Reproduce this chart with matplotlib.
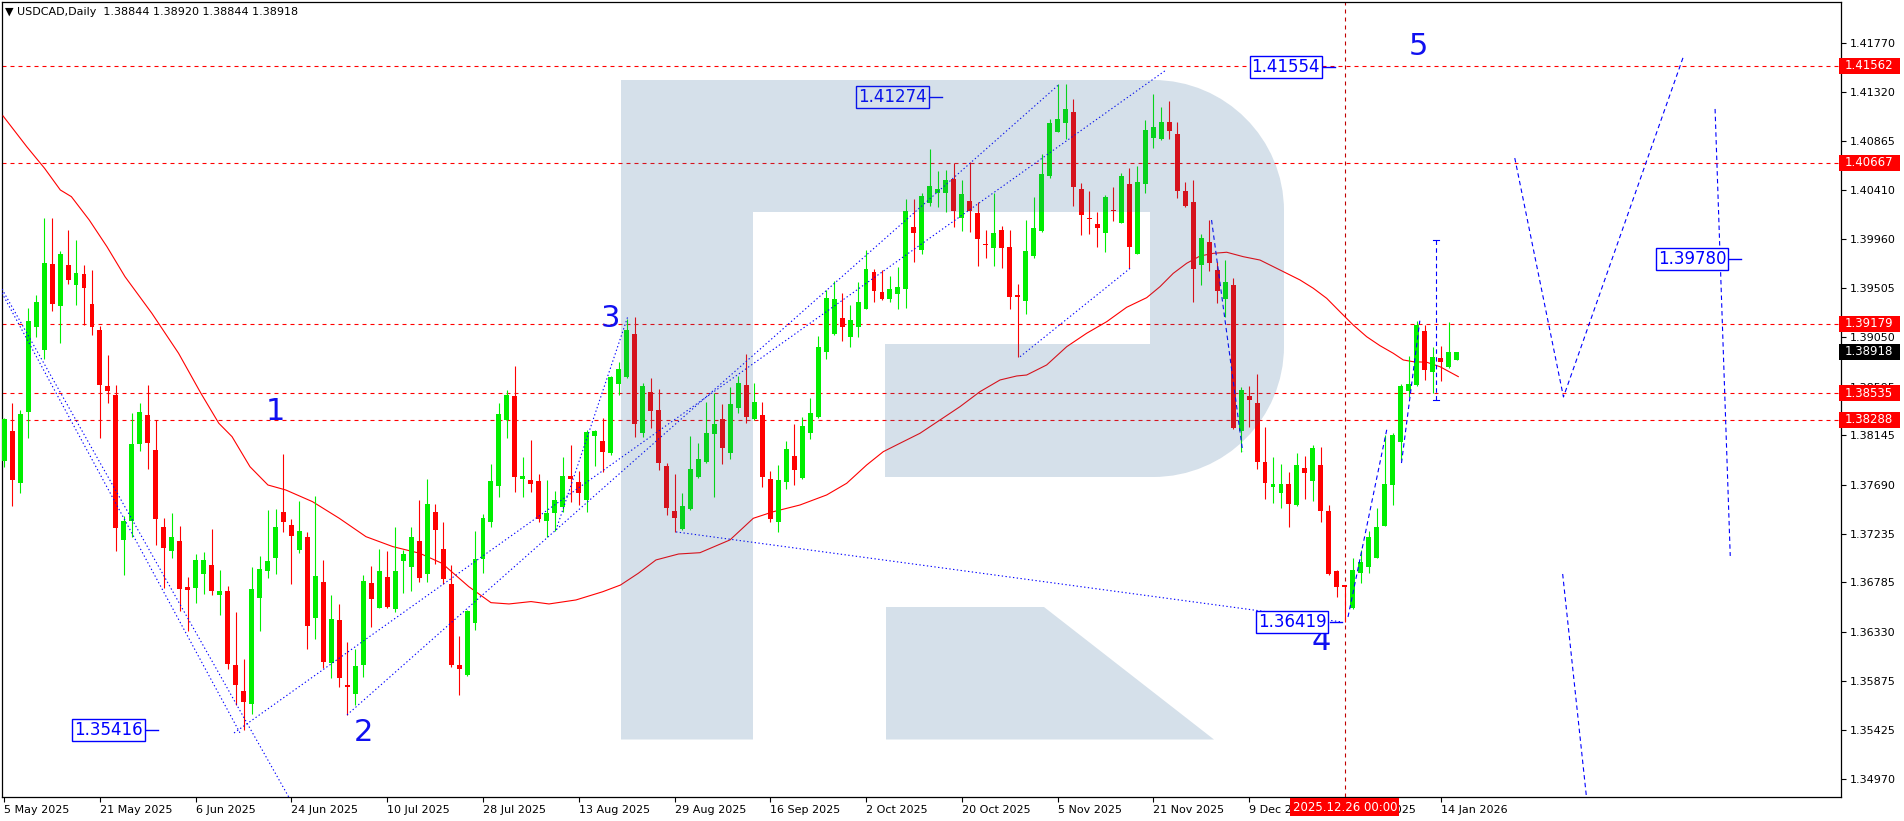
import matplotlib
matplotlib.use("Agg")
import matplotlib.pyplot as plt
import matplotlib.transforms as mtransforms
from matplotlib.patches import Rectangle, PathPatch
from matplotlib.path import Path

plt.rcParams['font.family'] = ['DejaVu Sans']

# ---------------- data (daily candles, index 0 = 5 May 2025) ----------------
opens = [1.37905,1.38187,1.37701,1.38365,1.39147,1.38933,1.39731,1.39345,1.39721,1.39539,
         1.39637,1.39361,1.39118,1.38602,1.38518,1.37175,1.37354,1.38067,1.38333,1.38009,
         1.37295,1.37078,1.37172,1.36744,1.36737,1.36867,1.36945,1.36673,1.36705,1.36021,
         1.35781,1.35658,1.36643,1.36893,1.37007,1.37438,1.37315,1.37088,1.37206,1.36460,
         1.36790,1.36044,1.36438,1.35837,1.35754,1.36022,1.36777,1.36552,1.36836,1.36540,
         1.36987,1.36931,1.37169,1.36867,1.37437,1.37095,1.36771,1.36022,1.35930,1.36414,
         1.37002,1.37347,1.37680,1.38287,1.38509,1.37745,1.37733,1.37723,1.37357,1.37425,
         1.37486,1.37770,1.37714,1.37551,1.38143,1.38093,1.37985,1.38617,1.38688,1.39079,
         1.38164,1.38543,1.38379,1.37862,1.37446,1.37276,1.37464,1.37757,1.37902,1.38154,
         1.38296,1.37979,1.38395,1.38611,1.38296,1.38333,1.37738,1.37347,1.37717,1.37954,
         1.37748,1.38170,1.38318,1.38919,1.39082,1.39227,1.39057,1.39144,1.39316,1.39652,
         1.39470,1.39409,1.39452,1.39498,1.40068,1.39859,1.40290,1.40389,1.40389,1.40515,
         1.40152,1.40312,1.40198,1.39914,1.39880,1.40044,1.39887,1.39440,1.39390,1.39806,
         1.40034,1.40543,1.40953,1.41036,1.41135,1.40423,1.40158,1.40099,1.40019,1.40229,
         1.40111,1.40469,1.39825,1.40466,1.40897,1.40882,1.41045,1.40931,1.40404,1.40303,
         1.39717,1.39933,1.39674,1.39406,1.39535,1.38188,1.38509,1.38447,1.37899,1.37670,
         1.37615,1.37695,1.37501,1.37840,1.37726,1.37871,1.37446,1.36894,1.36761,1.36545,
         1.36869,1.36925,1.37014,1.37310,1.37686,1.38087,1.38558,1.38610,1.39110,1.38734,
         1.38860,1.38780,1.38844]
highs = [1.38310,1.38447,1.38375,1.39322,1.39445,1.40159,1.40159,1.39851,1.40042,1.39951,
         1.39721,1.39672,1.39160,1.38888,1.38612,1.37402,1.38349,1.38447,1.38612,1.38284,
         1.37380,1.37425,1.37305,1.36835,1.37046,1.37068,1.37279,1.36900,1.36754,1.36510,
         1.36073,1.36929,1.37029,1.37457,1.37467,1.37976,1.37376,1.37539,1.37249,1.37585,
         1.36993,1.36673,1.36586,1.36238,1.36170,1.36854,1.36938,1.37095,1.37076,1.37298,
         1.37085,1.37298,1.37548,1.37742,1.37511,1.37344,1.36947,1.36290,1.36531,1.37261,
         1.37418,1.37881,1.38445,1.38565,1.38787,1.37948,1.38103,1.37788,1.37733,1.37631,
         1.37948,1.38056,1.37816,1.38195,1.38195,1.38309,1.38694,1.38826,1.39218,1.39242,
         1.38626,1.38672,1.38570,1.37886,1.37785,1.37609,1.38139,1.38071,1.38450,1.38533,
         1.38432,1.38589,1.38694,1.38894,1.38626,1.38456,1.37815,1.37871,1.38096,1.38247,
         1.38318,1.38487,1.39064,1.39489,1.39572,1.39458,1.39350,1.39560,1.39859,1.39680,
         1.39674,1.39618,1.39698,1.40327,1.40327,1.40383,1.40793,1.40589,1.40598,1.40660,
         1.40506,1.40675,1.40306,1.40044,1.40383,1.40081,1.40044,1.39544,1.40136,1.40352,
         1.40743,1.41067,1.41394,1.41394,1.41252,1.40475,1.40404,1.40207,1.40367,1.40438,
         1.40568,1.40614,1.40638,1.41061,1.41301,1.41178,1.41236,1.41045,1.40484,1.40506,
         1.40007,1.40136,1.39751,1.39766,1.39597,1.38589,1.38601,1.38712,1.38219,1.37948,
         1.37880,1.37809,1.37979,1.37954,1.38056,1.38034,1.37501,1.36900,1.36761,1.37008,
         1.37085,1.37261,1.37476,1.38148,1.38164,1.38617,1.38879,1.39205,1.39165,1.38965,
         1.38971,1.39190,1.38920]
lows = [1.37856,1.37493,1.37613,1.38122,1.39050,1.38852,1.39296,1.39001,1.39543,1.39348,
        1.39163,1.39073,1.38122,1.38447,1.37078,1.36851,1.37208,1.38002,1.37837,1.37127,
        1.36734,1.37007,1.36520,1.36339,1.36598,1.36682,1.36673,1.36488,1.35988,1.35651,
        1.35416,1.35570,1.36332,1.36828,1.36867,1.37247,1.36773,1.37055,1.36170,1.36263,
        1.35991,1.35905,1.35822,1.35560,1.35652,1.35914,1.36377,1.36546,1.36552,1.36515,
        1.36691,1.36706,1.36793,1.36793,1.36953,1.36768,1.36000,1.35745,1.35924,1.36346,
        1.36876,1.37301,1.37579,1.38124,1.37625,1.37579,1.37625,1.37347,1.37209,1.37261,
        1.37440,1.37532,1.37502,1.37437,1.37865,1.37810,1.37963,1.38518,1.38672,1.38133,
        1.38133,1.38210,1.37825,1.37409,1.37254,1.37270,1.37455,1.37751,1.37892,1.37572,
        1.37877,1.37923,1.38349,1.38256,1.38287,1.37664,1.37341,1.37254,1.37646,1.37686,
        1.37741,1.38108,1.38308,1.38848,1.39073,1.39020,1.38959,1.39051,1.39310,1.39381,
        1.39396,1.39375,1.39310,1.39326,1.39751,1.39819,1.40266,1.40253,1.40213,1.40068,
        1.40037,1.40022,1.39709,1.39788,1.39714,1.39689,1.39313,1.38866,1.39264,1.39782,
        1.40028,1.40528,1.40947,1.40885,1.40269,1.39997,1.40007,1.39890,1.39843,1.40130,
        1.40105,1.39695,1.39819,1.40389,1.40805,1.40876,1.40882,1.40336,1.40259,1.39375,
        1.39532,1.39668,1.39372,1.39242,1.38201,1.37988,1.38225,1.37831,1.37556,1.37523,
        1.37470,1.37295,1.37492,1.37553,1.37541,1.37347,1.36854,1.36647,1.36419,1.36536,
        1.36777,1.36875,1.37008,1.37307,1.37501,1.37917,1.38503,1.38601,1.38657,1.38533,
        1.38647,1.38765,1.38844]
closes = [1.38294,1.37733,1.38343,1.39202,1.39377,1.39737,1.39355,1.39822,1.39582,1.39646,
          1.39510,1.39150,1.38609,1.38554,1.37292,1.37354,1.38067,1.38362,1.38077,1.37376,
          1.37107,1.37205,1.36728,1.36718,1.36997,1.36997,1.36708,1.36705,1.36034,1.35839,
          1.35677,1.36728,1.36909,1.36987,1.37299,1.37347,1.37217,1.37263,1.36386,1.36845,
          1.36053,1.36448,1.35905,1.35822,1.36013,1.36799,1.36635,1.36891,1.36562,1.36891,
          1.37049,1.37206,1.36830,1.37511,1.37273,1.36820,1.36022,1.35982,1.36521,1.37002,
          1.37381,1.37723,1.38343,1.38519,1.37762,1.37770,1.37699,1.37375,1.37425,1.37548,
          1.37770,1.37739,1.37609,1.38177,1.38186,1.37995,1.38688,1.38755,1.39119,1.38247,
          1.38601,1.38373,1.37886,1.37470,1.37378,1.37492,1.37834,1.37926,1.38164,1.38247,
          1.38031,1.38432,1.38626,1.38318,1.38450,1.37757,1.37368,1.37732,1.38016,1.37825,
          1.38231,1.38349,1.38959,1.39412,1.39403,1.39150,1.39212,1.39375,1.39680,1.39483,
          1.39409,1.39495,1.39514,1.40219,1.40019,1.40358,1.40451,1.40423,1.40506,1.40222,
          1.40376,1.40222,1.39960,1.39902,1.40013,1.39880,1.39427,1.39427,1.39849,1.40065,
          1.40561,1.41030,1.41070,1.41162,1.40444,1.40182,1.40148,1.40065,1.40346,1.40219,
          1.40543,1.39890,1.40487,1.40968,1.40993,1.41045,1.40962,1.40407,1.40269,1.39686,
          1.39973,1.39742,1.39483,1.39563,1.38210,1.38564,1.38472,1.37902,1.37707,1.37695,
          1.37695,1.37510,1.37871,1.37800,1.38025,1.37449,1.36860,1.36740,1.36740,1.36900,
          1.36977,1.37202,1.37294,1.37695,1.38148,1.38604,1.38620,1.39165,1.38749,1.38866,
          1.38823,1.38916,1.38918]

# moving average (bar index, price)
ma_idx = [-0.14,2.83,5.06,7.03,8.42,10.66,12.88,15.14,18.50,21.85,24.65,26.89,28.55,30.80,
          33.05,35.28,38.63,41.99,45.34,48.71,52.06,54.86,58.22,61.00,63.26,66.02,68.27,71.65,
          75.00,77.23,79.47,81.68,84.51,87.19,90.95,93.87,96.38,99.72,103.07,105.58,108.08,
          110.16,112.26,114.76,117.27,119.77,122.28,124.79,126.88,128.13,130.64,133.15,135.65,
          138.16,140.66,143.17,144.84,146.50,148.18,149.85,151.52,153.20,155.28,157.37,159.88,
          162.38,164.05,165.73,167.39,169.06,170.74,172.41,174.07,175.33,176.58,178.26,179.92,182.22]
ma_val = [1.41098,1.40814,1.40614,1.40414,1.40352,1.40136,1.39889,1.39612,1.39274,1.38904,
          1.38534,1.38257,1.38133,1.37855,1.37686,1.37640,1.37532,1.37378,1.37208,1.37116,
          1.37055,1.36962,1.36746,1.36598,1.36586,1.36608,1.36586,1.36623,1.36699,1.36761,
          1.36870,1.36993,1.37048,1.37060,1.37178,1.37378,1.37439,1.37501,1.37594,1.37702,
          1.37871,1.37994,1.38072,1.38164,1.38287,1.38410,1.38549,1.38657,1.38694,1.38703,
          1.38796,1.38965,1.39089,1.39196,1.39329,1.39418,1.39520,1.39643,1.39736,1.39803,
          1.39828,1.39838,1.39797,1.39766,1.39674,1.39582,1.39505,1.39412,1.39288,1.39165,
          1.39057,1.38974,1.38904,1.38842,1.38826,1.38821,1.38780,1.38688]

level_prices = [1.41562, 1.40667, 1.39179, 1.38535, 1.38288]
y_ticks = [1.41770,1.41320,1.40865,1.40410,1.39960,1.39505,1.39050,1.38595,1.38145,
           1.37690,1.37235,1.36785,1.36330,1.35875,1.35425,1.34970]
x_tick_idx = [0,12,24,36,48,60,72,84,96,108,120,132,144,156,168,180]
x_tick_lbl = ["5 May 2025","21 May 2025","6 Jun 2025","24 Jun 2025","10 Jul 2025",
              "28 Jul 2025","13 Aug 2025","29 Aug 2025","16 Sep 2025","2 Oct 2025",
              "20 Oct 2025","5 Nov 2025","21 Nov 2025","9 Dec 2025","26 Dec 2025","14 Jan 2026"]

# wave labels (index, price)
wave_txt = ["1","2","3","4","5"]
wave_idx = [34.0, 45.0, 76.0, 165.0, 177.2]
wave_val = [1.38361, 1.35393, 1.39221, 1.36235, 1.41745]

# boxed price labels (index of box centre, price)
box_txt = ["1.35416","1.41274","1.36419","1.41554","1.39780"]
box_idx = [13.1, 111.3, 161.4, 160.6, 211.5]
box_val = [1.35416, 1.41274, 1.36419, 1.41554, 1.39780]

# blue trend / projection lines : lists of (index, price) vertices
dotted_lines = [
    ([-0.28, 35.94], [1.39498, 1.34764]),
    ([-0.28, 29.55], [1.39461, 1.35393]),
    ([28.8, 145.6], [1.35393, 1.41523]),
    ([42.96, 132.1], [1.35560, 1.41384]),
    ([69.15, 78.17], [1.37270, 1.39249]),
    ([84.19, 167.6], [1.37252, 1.36420]),
    ([127.3, 141.1], [1.38872, 1.39690]),
]
dashed_lines = [
    ([151.3, 155.2], [1.40136, 1.37996]),
    ([168.4, 173.3], [1.36466, 1.38213]),
    ([175.1, 177.4], [1.37889, 1.39205]),
    ([179.4, 179.4], [1.39951, 1.38472]),
    ([189.3, 195.4, 210.5], [1.40709, 1.38500, 1.41662]),
    ([214.4, 216.3], [1.41163, 1.37030]),
    ([195.3, 198.5], [1.36863, 1.34650]),
]

# ---------------- figure ----------------
W, H, DPI = 1904, 821, 100
fig = plt.figure(figsize=(W / DPI, H / DPI), dpi=DPI)
fig.patch.set_facecolor('white')
ax = fig.add_axes([2 / W, 1 - 797 / H, (1841 - 2) / W, (797 - 2) / H])
ax.set_xlim(-0.276, 230.18)
ax.set_ylim(1.34801, 1.42152)
PX = (1.42152 - 1.34801) / 795.0   # price per pixel

GREEN = '#00EE00'
RED = '#FF0000'
BLUE = '#0000FF'

n = len(opens)
xs = list(range(n))
cols = [GREEN if closes[i] >= opens[i] else RED for i in xs]
ax.vlines(xs, lows, highs, colors=cols, lw=0.8, zorder=3)
bottoms = [min(opens[i], closes[i]) for i in xs]
heights = [max(abs(closes[i] - opens[i]), PX * 1.2) for i in xs]
ax.bar(xs, heights, bottom=bottoms, width=0.62, color=cols, edgecolor='none', zorder=3)

ax.plot(ma_idx, ma_val, color='#FF0000', lw=0.8, zorder=2.8)

for lv in level_prices:
    ax.axhline(lv, color=RED, lw=0.8, ls=(0, (3.6, 3.6)), zorder=2)
ax.axvline(168, color='#C00000', lw=0.8, ls=(0, (3.6, 3.6)), zorder=2)

for xv, yv in dotted_lines:
    ax.plot(xv, yv, color=BLUE, lw=0.8, ls=(0, (1.2, 2.2)), zorder=4)
for xv, yv in dashed_lines:
    ax.plot(xv, yv, color=BLUE, lw=0.8, ls=(0, (4, 3)), zorder=4)
# small end ticks of the vertical bracket
for yv in [1.39951, 1.38472]:
    ax.plot([179.0, 179.8], [yv, yv], color=BLUE, lw=0.8, zorder=4)

for t, xi, yv in zip(wave_txt, wave_idx, wave_val):
    ax.text(xi, yv, t, color='#1010F0', fontsize=22, ha='center', va='center', zorder=6)

for t, xi, yv in zip(box_txt, box_idx, box_val):
    ax.text(xi, yv, t, color=BLUE, fontsize=12, ha='center', va='center', zorder=6,
            bbox=dict(boxstyle='square,pad=0.12', fc='white', ec=BLUE, lw=1))
    ax.plot([xi + 4.7, xi + 6.2], [yv, yv], color=BLUE, lw=1, zorder=6)

# ---- logo (semi-transparent overlay, drawn in pixel space) ----
k = 0.5523
r = 131
verts = [(621, 80), (1153, 80),
         (1153 + k * r, 80), (1284, 211 - k * r), (1284, 211),
         (1284, 346),
         (1284, 346 + k * r), (1153 + k * r, 477), (1153, 477),
         (885, 477), (885, 344), (1150, 344), (1150, 212), (753, 212),
         (753, 739.5), (621, 739.5), (621, 80),
         (886, 607), (1044, 607), (1214, 739.5), (886, 739.5), (886, 607)]
codes = [Path.MOVETO, Path.LINETO,
         Path.CURVE4, Path.CURVE4, Path.CURVE4,
         Path.LINETO,
         Path.CURVE4, Path.CURVE4, Path.CURVE4,
         Path.LINETO, Path.LINETO, Path.LINETO, Path.LINETO, Path.LINETO,
         Path.LINETO, Path.LINETO, Path.CLOSEPOLY,
         Path.MOVETO, Path.LINETO, Path.LINETO, Path.LINETO, Path.CLOSEPOLY]
pix = mtransforms.Affine2D().scale(1, -1).translate(0, H)
ax.add_patch(PathPatch(Path(verts, codes), transform=pix, facecolor=(45 / 255, 100 / 255, 150 / 255, 0.2),
                       edgecolor='none', zorder=10, clip_on=False))

# ---- axes styling ----
for s in ax.spines.values():
    s.set_color('black')
    s.set_linewidth(0.9)
ax.yaxis.tick_right()
ax.set_yticks(y_ticks)
ax.set_yticklabels([f"{v:.5f}" for v in y_ticks])
ax.tick_params(axis='y', length=3.5, width=0.8, labelsize=8, pad=2.5, colors='black')
ax.set_xticks(x_tick_idx)
ax.set_xticklabels(x_tick_lbl)
for lbl in ax.get_xticklabels():
    lbl.set_ha('left')
ax.tick_params(axis='x', length=3.5, width=0.8, labelsize=8, pad=2.5)

bt = mtransforms.blended_transform_factory(mtransforms.IdentityTransform(), ax.transData)
def price_box(p, fc):
    hh = 8 * PX
    ax.add_patch(Rectangle((1839, p - hh), 61, 2 * hh, transform=bt, facecolor=fc,
                           edgecolor='none', clip_on=False, zorder=8))
    ax.text(1845, p, f"{p:.5f}", transform=bt, color='white', fontsize=8.5,
            va='center', ha='left', clip_on=False, zorder=9)
for lv in level_prices:
    price_box(lv, RED)
price_box(closes[-1], 'black')

bt2 = mtransforms.blended_transform_factory(ax.transData, mtransforms.IdentityTransform())
ax.text(168, H - 807, "2025.12.26 00:00", transform=bt2, color='white', fontsize=8.5,
        ha='center', va='center', zorder=9, clip_on=False,
        bbox=dict(boxstyle='square,pad=0.2', fc=RED, ec='none'))

fig.text(5 / W, 1 - 12 / H, "\u25BC USDCAD,Daily  1.38844 1.38920 1.38844 1.38918",
         fontsize=8, va='center', ha='left', color='black')

fig.savefig("out.png", dpi=DPI)
